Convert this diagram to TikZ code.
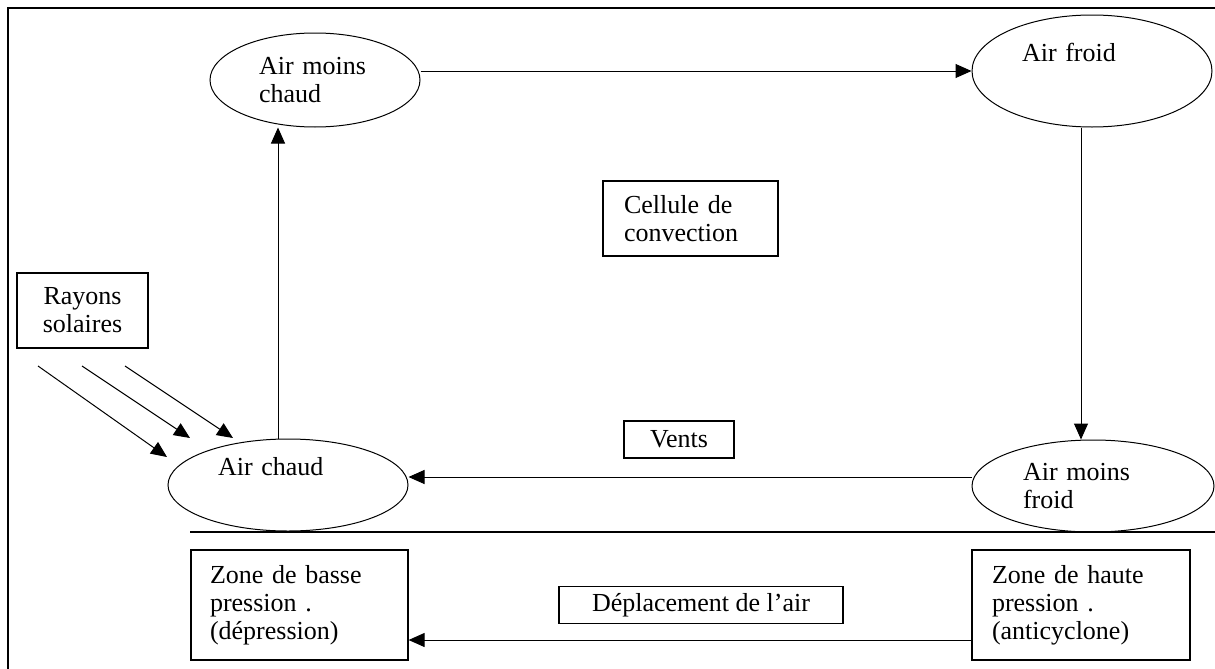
\documentclass[tikz,border=0pt]{standalone}
\usepackage{fontspec}
\setmainfont{Liberation Serif}
\usetikzlibrary{shapes.geometric, arrows.meta}

\begin{document}
\begin{tikzpicture} [x=0.5pt, y=-0.5pt, font=\fontsize{13}{14}\selectfont,
bulle/.style={draw, ellipse, line width=0.5pt, inner sep=0pt, text width=70pt, align=left},
boite/.style={draw, rectangle, line width=0.6pt, align=left},
fl/.style={-{Triangle[length=8pt,width=7pt]}, line width=0.5pt}]
\useasboundingbox (0,0) rectangle (1215,669);
\draw [line width=1pt] (1215,8) -- (8,8) -- (8,669);
\node[bulle, text width=56pt, minimum width=105pt, minimum height=47pt] (amc) at (315,80) {Air moins\\chaud};
\node[bulle, minimum width=120pt, minimum height=56pt] (af) at (1092,71) {Air froid\\\strut};
\node[bulle, minimum width=121pt, minimum height=46pt] (amf) at (1093,486) {Air moins\\froid};
\node[bulle, minimum width=120pt, minimum height=46pt] (ac) at (288,485) {Air chaud\\\strut};
\node[boite, align=center, minimum width=65.5pt, minimum height=37.5pt] (rs) at (82.5,310.5) {Rayons\\solaires};
\node[boite, text width=66.5pt, inner xsep=10.5pt, minimum height=37.5pt] (cc) at (690.5,218.5) {Cellule de\\convection};
\node[boite, align=center, minimum width=55pt, minimum height=18.5pt] (v) at (679,439.5) {Vents};
\node[boite, text width=89.5pt, inner xsep=9.5pt, minimum height=55pt] (zb) at (299.5,605) {Zone de basse\\pression .\\(dépression)};
\node[boite, text width=89pt, inner xsep=10pt, minimum height=55pt] (zh) at (1081,605) {Zone de haute\\pression .\\(anticyclone)};
\node[boite, align=center, minimum width=142pt, minimum height=18pt] (dep) at (701,605) {Déplacement de l'air};
\draw [line width=0.6pt] (190,532) -- (1215,532);
\draw [fl] (amc.east |- af.west) -- (af.west);
\draw [fl] ([xshift=-5.5pt]af.south) -- ([xshift=-5.5pt]af.south |- amf.north);
\draw [fl] ([yshift=4.5pt]amf.west) -- ([yshift=4.5pt]amf.west -| ac.east);
\draw [fl] ([xshift=-5pt]ac.north) -- ([xshift=-5pt]ac.north |- amc.south);
\draw [fl] ([yshift=-17.5pt]zh.west) -- ([yshift=-17.5pt]zh.west -| zb.east);
\foreach \a/\b/\c/\d [count=\i] in {38/366/167/457, 82/366/190/438, 125/366/233/438}{
\coordinate (r\i) at (\a,\b);
\coordinate (t\i) at (\c,\d);
\draw [fl] (r\i) -- (t\i);
}
\end{tikzpicture}
\end{document}
